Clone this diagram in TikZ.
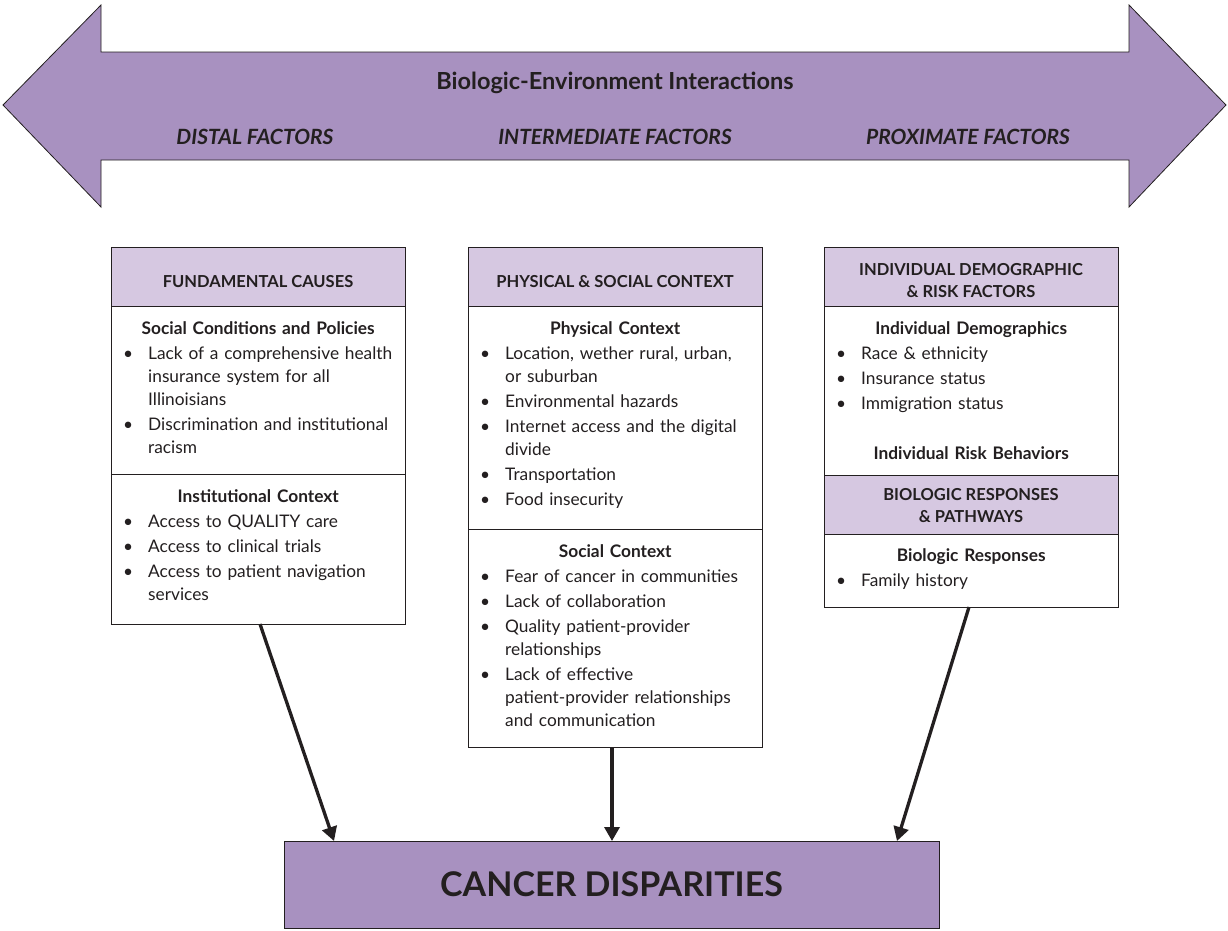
\documentclass[tikz,border=0pt]{standalone}
\usepackage{fontspec}
\setmainfont{Lato}
\usepackage{enumitem}
\usetikzlibrary{positioning,arrows.meta}
\definecolor{bandpurple}{RGB}{168,145,192}
\definecolor{headlilac}{RGB}{214,200,225}
\definecolor{inkdark}{RGB}{35,31,32}
\setlist[itemize]{label=\textbullet, leftmargin=30pt, labelsep=15pt, itemsep=2pt,
  topsep=2pt, parsep=0pt, partopsep=0pt}
\begin{document}
\begin{tikzpicture}[x=1pt, y=-1pt,
  every node/.style={text=inkdark},
  hdr/.style={draw=inkdark, line width=1pt, fill=headlilac, minimum width=294pt,
    minimum height=59pt, inner sep=0pt, outer sep=0pt},
  hdrtext/.style={inner sep=0pt, align=center, font=\fontsize{16.5}{22}\selectfont\bfseries},
  sect/.style={draw=inkdark, line width=1pt, fill=white, minimum width=294pt,
    inner sep=0pt, outer sep=0pt},
  body/.style={anchor=north west, inner sep=0pt, text width=280pt, align=left,
    font=\fontsize{17.3}{23}\selectfont},
  factor/.style={font=\fontsize{21}{24}\selectfont\bfseries\itshape},
  link/.style={draw=inkdark, line width=3.3pt, -{Triangle[length=14pt,width=15pt]}}
]
  \useasboundingbox (0,0) rectangle (1228,930);
  % double arrow on top
  \draw[fill=bandpurple, draw=inkdark, line width=0.8pt]
    (3,105) -- (101,5) -- (101,52) -- (1129,52) -- (1129,5) -- (1226,105)
    -- (1129,207) -- (1129,160) -- (101,160) -- (101,207) -- cycle;
  \node[font=\fontsize{23.5}{26}\selectfont\bfseries] (bei) at (615,83) {Biologic-Environment Interactions};
  \node[factor] (distal) at (255,137) {DISTAL FACTORS};
  \node[factor] (inter) at (615,137) {INTERMEDIATE FACTORS};
  \node[factor] (prox) at (968,137) {PROXIMATE FACTORS};

  % fundamental causes
  \node[hdr] (fcH) at (258,276.5) {};
  \node[hdrtext] (fcHt) at ([yshift=-5.5pt]fcH.center) {FUNDAMENTAL CAUSES};
  \node[sect, minimum height=168pt, below=0pt of fcH] (fcA) {};
  \node[sect, minimum height=150pt, below=0pt of fcA] (fcB) {};
  \node[body] (fcAt) at ([xshift=7pt,yshift=-15pt]fcA.north west) {%
    \centerline{\bfseries Social Conditions and Policies}
    \begin{itemize}
      \item Lack of a comprehensive health\newline insurance system for all\newline Illinoisians
      \item Discrimination and institutional\newline racism
    \end{itemize}};
  \node[body] (fcBt) at ([xshift=7pt,yshift=-15pt]fcB.north west) {%
    \centerline{\bfseries Institutional Context}
    \begin{itemize}
      \item Access to QUALITY care
      \item Access to clinical trials
      \item Access to patient navigation\newline services
    \end{itemize}};

  % physical and social context
  \node[hdr] (pcH) at (615,276.5) {};
  \node[hdrtext] (pcHt) at ([yshift=-5.5pt]pcH.center) {PHYSICAL \& SOCIAL CONTEXT};
  \node[sect, minimum height=223pt, below=0pt of pcH] (pcA) {};
  \node[sect, minimum height=218pt, below=0pt of pcA] (pcB) {};
  \node[body] (pcAt) at ([xshift=7pt,yshift=-15pt]pcA.north west) {%
    \centerline{\bfseries Physical Context}
    \begin{itemize}
      \item Location, wether rural, urban,\newline or suburban
      \item Environmental hazards
      \item Internet access and the digital\newline divide
      \item Transportation
      \item Food insecurity
    \end{itemize}};
  \node[body] (pcBt) at ([xshift=7pt,yshift=-15pt]pcB.north west) {%
    \centerline{\bfseries Social Context}
    \begin{itemize}
      \item Fear of cancer in communities
      \item Lack of collaboration
      \item Quality patient-provider\newline relationships
      \item Lack of effective\newline patient-provider relationships\newline and communication
    \end{itemize}};

  % individual and biologic factors
  \node[hdr] (idH) at (971,276.5) {};
  \node[hdrtext] (idHt) at ([yshift=-4pt]idH.center) {INDIVIDUAL DEMOGRAPHIC\\\& RISK FACTORS};
  \node[sect, minimum height=169pt, below=0pt of idH] (idA) {};
  \node[hdr, below=0pt of idA] (brH) {};
  \node[hdrtext] (brHt) at ([yshift=-1pt]brH.center) {BIOLOGIC RESPONSES\\\& PATHWAYS};
  \node[sect, minimum height=73pt, below=0pt of brH] (brA) {};
  \node[body] (idAt) at ([xshift=7pt,yshift=-15pt]idA.north west) {%
    \centerline{\bfseries Individual Demographics}
    \begin{itemize}
      \item Race \& ethnicity
      \item Insurance status
      \item Immigration status
    \end{itemize}
    \vspace{25pt}
    \centerline{\bfseries Individual Risk Behaviors}};
  \node[body] (brAt) at ([xshift=7pt,yshift=-14.5pt]brA.north west) {%
    \centerline{\bfseries Biologic Responses}
    \begin{itemize}
      \item Family history
    \end{itemize}};

  % outcome
  \node[draw=inkdark, line width=1pt, fill=bandpurple, minimum width=655pt, minimum height=87pt,
    outer sep=0pt, font=\fontsize{34}{40}\selectfont\bfseries] (cd) at (611.5,884.5) {CANCER DISPARITIES};

  \draw[link] ([xshift=2pt]fcB.south) -- ([xshift=-277.5pt]cd.north);
  \draw[link] ([xshift=-3pt]pcB.south) -- ([xshift=0.5pt]cd.north);
  \draw[link] ([xshift=-2pt]brA.south) -- ([xshift=285.5pt]cd.north);
\end{tikzpicture}
\end{document}
